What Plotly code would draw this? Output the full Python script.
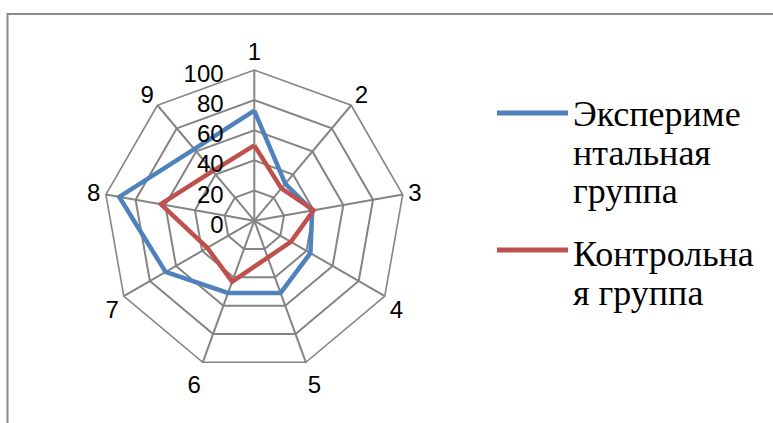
import plotly.graph_objects as go

# Spokes of the radar chart and the two groups' scores
categories = ["1", "2", "3", "4", "5", "6", "7", "8", "9"]
experimental = [73, 32, 39, 43, 51, 51, 68, 91, 62]
control = [50, 28, 40, 28, 26, 43, 36, 63, 43]
radial_ticks = [0, 20, 40, 60, 80, 100]

series_names = ["Экспериментальная группа", "Контрольная группа"]
legend_lines = [["Экспериме", "нтальная", "группа"], ["Контрольна", "я группа"]]
series_colors = ["#4F81BD", "#C0504D"]

W, H = 773, 423
cx, cy, R = 254.3, 220.7, 150.7

fig = go.Figure()
for name, vals, color in zip(series_names, [experimental, control], series_colors):
    fig.add_trace(go.Scatterpolar(
        r=vals + vals[:1],
        theta=categories + categories[:1],
        mode="lines",
        name=name,
        line=dict(color=color, width=4.5),
        showlegend=False,
    ))

grid = "#848484"
tick_font = dict(family="Liberation Sans, Arial, sans-serif", size=24, color="black")
fig.update_layout(
    width=W, height=H,
    margin=dict(l=0, r=0, t=0, b=0),
    paper_bgcolor="white",
    plot_bgcolor="white",
    polar=dict(
        domain=dict(x=[(cx - R) / W, (cx + R) / W],
                    y=[1 - (cy + R) / H, 1 - (cy - R) / H]),
        bgcolor="white",
        gridshape="linear",
        radialaxis=dict(
            range=[0, 100],
            tickvals=radial_ticks,
            ticktext=[f"{v}\u00a0\u00a0" for v in radial_ticks],
            angle=90,
            side="counterclockwise",
            showline=False,
            ticks="",
            gridcolor=grid,
            gridwidth=1.6,
            tickfont=tick_font,
        ),
        angularaxis=dict(
            categoryorder="array",
            categoryarray=categories,
            rotation=90,
            direction="clockwise",
            showline=True,
            linecolor=grid,
            linewidth=1.6,
            gridcolor=grid,
            gridwidth=1.6,
            ticks="",
            tickfont=tick_font,
        ),
    ),
)

# Chart-area border (top and left edges visible)
fig.add_shape(type="rect", xref="paper", yref="paper",
              x0=7.5 / W, y0=-0.1, x1=1.1, y1=1 - 14 / H,
              line=dict(color="#8c8c8c", width=2), fillcolor="rgba(0,0,0,0)")

# Legend: swatches and wrapped labels
swatch_y = [113, 250]
line_step = 38.5
first_baseline = [125, 265]
text_x = 571
for i, (lines, color) in enumerate(zip(legend_lines, series_colors)):
    fig.add_shape(type="line", xref="paper", yref="paper",
                  x0=497 / W, x1=568 / W,
                  y0=1 - swatch_y[i] / H, y1=1 - swatch_y[i] / H,
                  line=dict(color=color, width=5))
    for j, txt in enumerate(lines):
        base = first_baseline[i] + j * line_step
        fig.add_annotation(
            x=text_x / W, y=1 - (base - 11) / H,
            xref="paper", yref="paper",
            xanchor="left", yanchor="middle",
            text=txt, showarrow=False,
            font=dict(family="Liberation Serif, Times New Roman, serif",
                      size=36, color="black"),
        )

fig.write_html("out.html")
